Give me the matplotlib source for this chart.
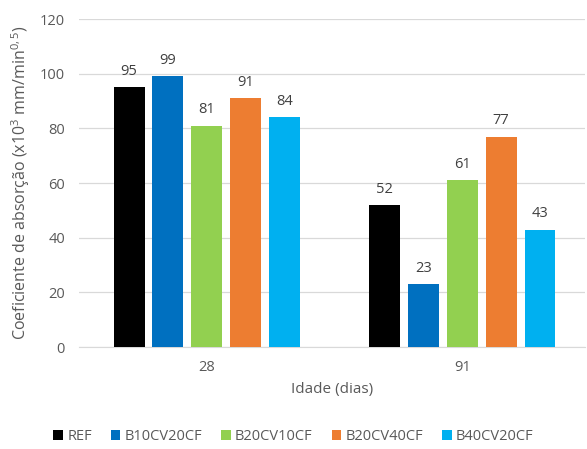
import numpy as np
import matplotlib
matplotlib.use("Agg")
import matplotlib.pyplot as plt

plt.rcParams['font.family'] = ['Open Sans', 'DejaVu Sans']
plt.rcParams['mathtext.default'] = 'regular'

# idades e séries
idades = ['28', '91']
series = ['REF', 'B10CV20CF', 'B20CV10CF', 'B20CV40CF', 'B40CV20CF']
ref = [95, 52]
b10cv20cf = [99, 23]
b20cv10cf = [81, 61]
b20cv40cf = [91, 77]
b40cv20cf = [84, 43]
cores = ['#000000', '#0070C0', '#92D050', '#ED7D31', '#00B0F0']

valores = [ref, b10cv20cf, b20cv10cf, b20cv40cf, b40cv20cf]

fig = plt.figure(figsize=(5.87, 4.49), dpi=100)
ax = fig.add_axes([0.1346, 0.227, 0.862, 0.7305])

x = np.arange(len(idades))
passo = 0.152
largura = 0.121
for i, (nome, v, c) in enumerate(zip(series, valores, cores)):
    pos = x + (i - 2) * passo
    barras = ax.bar(pos, v, largura, color=c, label=nome, zorder=3)
    for b, val in zip(barras, v):
        ax.text(b.get_x() + b.get_width() / 2, val + 3, str(val),
                ha='center', va='bottom', fontsize=10.5, color='#404040')

ax.set_xlim(-0.5, 1.48)
ax.set_ylim(0, 120)
ax.set_yticks(range(0, 121, 20))
ax.set_xticks(x)
ax.set_xticklabels(idades)
ax.yaxis.grid(True, color='#D9D9D9', linewidth=0.9, zorder=0)
ax.tick_params(axis='both', length=0, labelsize=10.5, colors='#595959')
ax.tick_params(axis='x', pad=9)
ax.tick_params(axis='y', pad=10)
for s in ['top', 'right', 'left']:
    ax.spines[s].set_visible(False)
ax.spines['bottom'].set_color('#D9D9D9')

ax.set_xlabel('Idade (dias)', fontsize=11, color='#595959', labelpad=5)
ax.set_ylabel('Coeficiente de absorção (x10$^{3}$ mm/min$^{0,5}$)',
              fontsize=11.5, color='#595959', labelpad=6)

leg = fig.legend(loc='center', bbox_to_anchor=(0.5, 0.027), ncol=5,
                 frameon=False, fontsize=10.5, handlelength=0.65, handleheight=0.65,
                 handletextpad=0.3, columnspacing=1.3)
for t in leg.get_texts():
    t.set_color('#595959')

fig.savefig('out.png', dpi=100)
